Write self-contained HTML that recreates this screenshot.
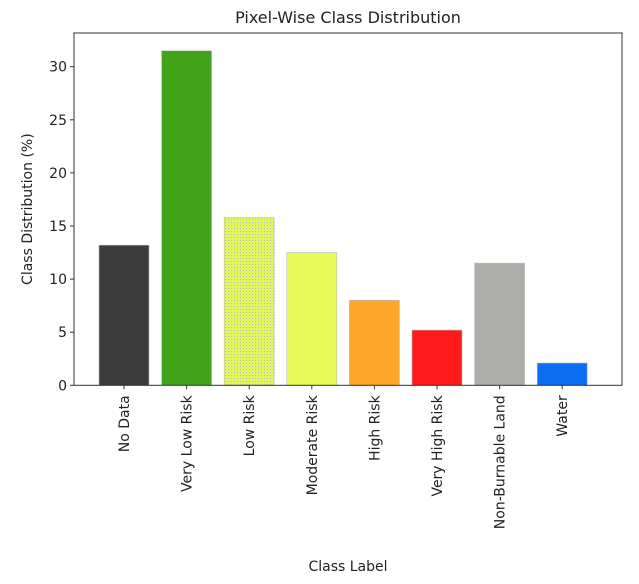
<!DOCTYPE html>
<html><head><meta charset="utf-8"><style>
body{margin:0;background:#fff;font-family:"DejaVu Sans","Liberation Sans",sans-serif}
text{font-family:"DejaVu Sans","Liberation Sans",sans-serif;fill:#222}
</style></head><body>
<svg id="c" width="639" height="580">
<defs><pattern id="dots" width="3" height="3" patternUnits="userSpaceOnUse"><rect width="3" height="3" fill="#e2f55c"/><rect width="1" height="1" fill="#b8b8d8"/></pattern></defs>
</svg>
<script>
const categories=["No Data","Very Low Risk","Low Risk","Moderate Risk","High Risk","Very High Risk","Non-Burnable Land","Water"];
const values=[13.2,31.5,15.8,12.5,8.0,5.2,11.5,2.1];
const colors=["#3b3b3b","#41a318","url(#dots)","#e6fa5c","#fea72c","#fc1a1a","#adadaa","#0b6ef2"];
const yTicks=[0,5,10,15,20,25,30];
const svg=document.getElementById('c');
const NS="http://www.w3.org/2000/svg";
const L=74,R=622,T=33,B=385.3,k=10.62;
const y=v=>B-v*k;
const step=62.6,x0=124;
const xc=i=>x0+i*step;
function mk(t,a,txt){const e=document.createElementNS(NS,t);for(const n in a)e.setAttribute(n,a[n]);if(txt!=null)e.textContent=txt;svg.appendChild(e);return e;}
categories.forEach((c,i)=>{
 const r=mk('rect',{x:xc(i)-25,y:y(values[i]),width:50,height:values[i]*k,fill:colors[i],stroke:'#bbb','stroke-width':0.6});
 
 
 mk('line',{x1:xc(i),x2:xc(i),y1:B,y2:B+4,stroke:'#333'});
 const t=mk('text',{x:0,y:0,'font-size':14,'text-anchor':'end',transform:`translate(${xc(i)+5},${B+10}) rotate(-90)`},c);
 
 
});
yTicks.forEach(v=>{
 mk('line',{x1:L-4,x2:L,y1:y(v),y2:y(v),stroke:'#333'});
 const t=mk('text',{x:L-7,y:y(v)+5,'font-size':14,'text-anchor':'end'},v);
 
 
});
const fr=mk('rect',{x:L,y:T,width:R-L,height:B-T,fill:'none',stroke:'#333','stroke-width':1});


const ti=mk('text',{x:(L+R)/2,y:23,'font-size':16,'text-anchor':'middle'},'Pixel-Wise Class Distribution');


const xl=mk('text',{x:(L+R)/2,y:571,'font-size':14,'text-anchor':'middle'},'Class Label');


const yl=mk('text',{x:0,y:0,'font-size':14,'text-anchor':'middle',transform:`translate(32,${(T+B)/2}) rotate(-90)`},'Class Distribution (%)');


</script>
</body></html>
